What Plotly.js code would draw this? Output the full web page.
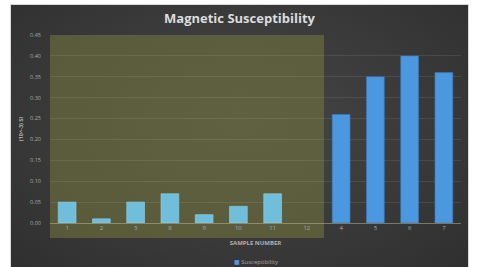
<!DOCTYPE html>
<html>
<head>
<meta charset="utf-8">
<script src="https://cdn.plot.ly/plotly-3.0.1.min.js"></script>
<style>
  html, body { margin: 0; padding: 0; background: #ffffff; width: 478px; height: 267px; overflow: hidden; }
  #frame { position: absolute; left: 10px; top: 4px; width: 459px; height: 263px;
           background: #d8d8d8; }
  #chart { position: absolute; left: 1px; top: 1px; width: 457px; height: 262px;
           background: radial-gradient(ellipse at 50% 45%, #464646 0%, #3a3a3a 55%, #2f2f2f 100%); }
</style>
</head>
<body>
<div id="frame"><div id="chart"></div></div>
<script>
// Data
const sampleLabels = ["1", "2", "3", "8", "9", "10", "11", "12", "4", "5", "6", "7"];
const susceptibility = [0.05, 0.01, 0.05, 0.07, 0.02, 0.04, 0.07, null, 0.26, 0.35, 0.40, 0.36];
const highlightedCount = 8; // categories 1..12 sit in the shaded block
const yTickVals = [0, 0.05, 0.10, 0.15, 0.20, 0.25, 0.30, 0.35, 0.40, 0.45];
const yTickText = ["0.00", "0.05", "0.10", "0.15", "0.20", "0.25", "0.30", "0.35", "0.40", "0.45"];
const seriesName = "Susceptibility";

const barColors = sampleLabels.map((_, i) => i < highlightedCount ? "#6fbfdc" : "#4b97e0");
const barLines = sampleLabels.map((_, i) => i < highlightedCount ? "#8fd0e6" : "#3a78b8");

const trace = {
  type: "bar",
  name: seriesName,
  x: sampleLabels,
  y: susceptibility,
  marker: { color: barColors, line: { color: barLines, width: 0.6 } },
  showlegend: false,
  hoverinfo: "x+y"
};

const layout = {
  width: 457,
  height: 262,
  margin: { l: 39, r: 7, t: 30, b: 44, pad: 0, autoexpand: false },
  paper_bgcolor: "rgba(0,0,0,0)",
  plot_bgcolor: "rgba(0,0,0,0)",
  font: { family: "Open Sans, DejaVu Sans, sans-serif", color: "#a8a8a8" },
  title: {
    text: "<b>Magnetic Susceptibility</b>",
    font: { size: 13, color: "#dcdcdc", family: "Open Sans, DejaVu Sans, sans-serif" },
    x: 0.5, xanchor: "center", y: 0.95, yanchor: "middle", yref: "container"
  },
  bargap: 0.48,
  showlegend: false,
  xaxis: {
    type: "category",
    tickfont: { size: 6, color: "#a8a8a8" },
    showgrid: false,
    showline: false,
    ticks: "",
    ticklen: 0,
    title: { text: "<b>SAMPLE NUMBER</b>", font: { size: 6, color: "#b0b0b0" }, standoff: 9 },
    fixedrange: true,
    automargin: false
  },
  yaxis: {
    range: [0, 0.45],
    tickvals: yTickVals,
    ticktext: yTickText,
    tickfont: { size: 5.5, color: "#a8a8a8" },
    ticklabelstandoff: 8,
    showgrid: true,
    gridcolor: "rgba(255,255,255,0.09)",
    gridwidth: 1,
    zeroline: true,
    zerolinecolor: "rgba(200,200,170,0.45)",
    zerolinewidth: 1,
    showline: false,
    ticks: "",
    title: { text: "<b>(10^-3) SI</b>", font: { size: 5.5, color: "#b0b0b0" }, standoff: 6 },
    fixedrange: true,
    automargin: false
  },
  annotations: [{
    xref: "paper", yref: "paper",
    x: 0.5, y: -0.205, xanchor: "center", yanchor: "middle",
    showarrow: false,
    text: '<span style="color:#4b97e0">■</span> ' + seriesName,
    font: { size: 6, color: "#a8a8a8" }
  }],
  shapes: [{
    type: "rect",
    xref: "paper", yref: "paper",
    x0: 0, x1: highlightedCount / sampleLabels.length,
    y0: -0.08, y1: 1,
    fillcolor: "rgba(115,117,60,0.58)",
    line: { width: 0 },
    layer: "below"
  }]
};

Plotly.newPlot("chart", [trace], layout, { displayModeBar: false, staticPlot: true });
</script>
</body>
</html>
